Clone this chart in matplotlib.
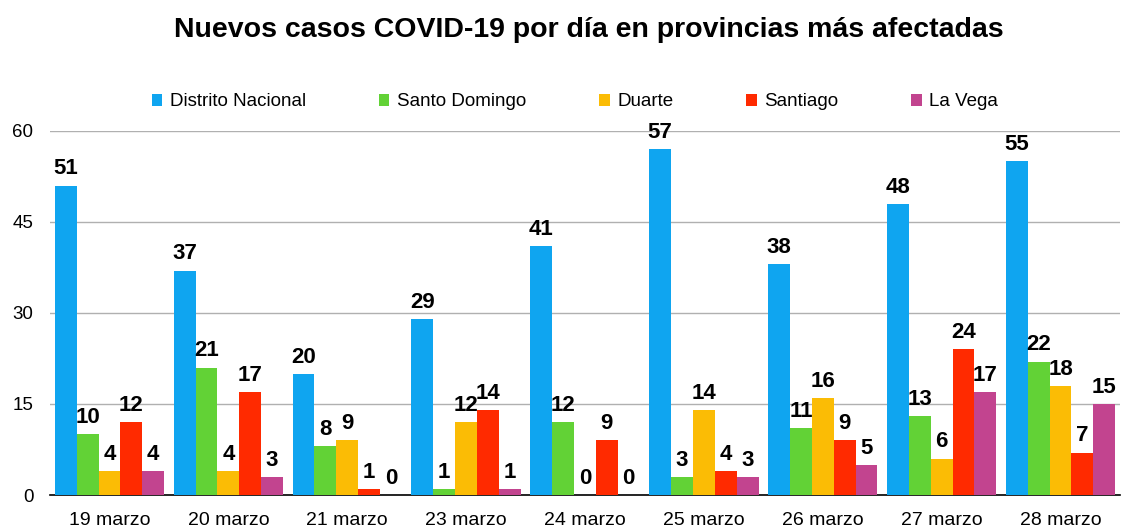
import matplotlib
matplotlib.use("Agg")
import matplotlib.pyplot as plt
import numpy as np

plt.rcParams['font.family'] = ['Liberation Sans', 'DejaVu Sans']

categories = ["19 marzo", "20 marzo", "21 marzo", "23 marzo", "24 marzo",
              "25 marzo", "26 marzo", "27 marzo", "28 marzo"]
series_names = ["Distrito Nacional", "Santo Domingo", "Duarte", "Santiago", "La Vega"]
distrito_nacional = [51, 37, 20, 29, 41, 57, 38, 48, 55]
santo_domingo = [10, 21, 8, 1, 12, 3, 11, 13, 22]
duarte = [4, 4, 9, 12, 0, 14, 16, 6, 18]
santiago = [12, 17, 1, 14, 9, 4, 9, 24, 7]
la_vega = [4, 3, 0, 1, 0, 3, 5, 17, 15]
series = [distrito_nacional, santo_domingo, duarte, santiago, la_vega]
colors = ["#0FA5F0", "#62D236", "#FBBC05", "#FF2A00", "#C2448F"]

fig = plt.figure(figsize=(11.22, 5.31), dpi=100)
ax = fig.add_axes([50/1122, 1-495/531, 1070/1122, (495-131)/531])

n = len(series)
x = np.arange(len(categories))
bw = 0.92 / n
for i, (vals, c, name) in enumerate(zip(series, colors, series_names)):
    pos = x - 0.46 + bw * (i + 0.5)
    ax.bar(pos, vals, width=bw, color=c, label=name, zorder=3)
    for p, v in zip(pos, vals):
        ax.annotate(str(v), (p, v), xytext=(0, 8), textcoords='offset points',
                    ha='center', va='baseline', fontsize=16, fontweight='bold',
                    color='black', zorder=4, annotation_clip=False)

ax.set_xlim(-0.5, len(categories) - 0.5)
ax.set_ylim(0, 60)
ax.set_yticks([0, 15, 30, 45, 60])
ax.set_xticks(x)
ax.set_xticklabels(categories, fontsize=14)
ax.tick_params(axis='y', labelsize=13.5, length=0, pad=12)
ax.tick_params(axis='x', length=0, pad=12)
ax.grid(axis='y', color='#B0B0B0', linewidth=1, zorder=0)
for s in ['top', 'right', 'left']:
    ax.spines[s].set_visible(False)
ax.spines['bottom'].set_color('black')
ax.spines['bottom'].set_linewidth(1.2)

fig.text(589/1122, 1-30/531, "Nuevos casos COVID-19 por día en provincias más afectadas",
         ha='center', va='center', fontsize=20.5, fontweight='bold')

leg = fig.legend(loc='center', bbox_to_anchor=(575/1122, 1-102/531), ncol=5,
                 frameon=False, fontsize=13.5, handlelength=0.55, handleheight=0.55,
                 handletextpad=0.4, columnspacing=3.9)

fig.savefig("out.png", dpi=100)
